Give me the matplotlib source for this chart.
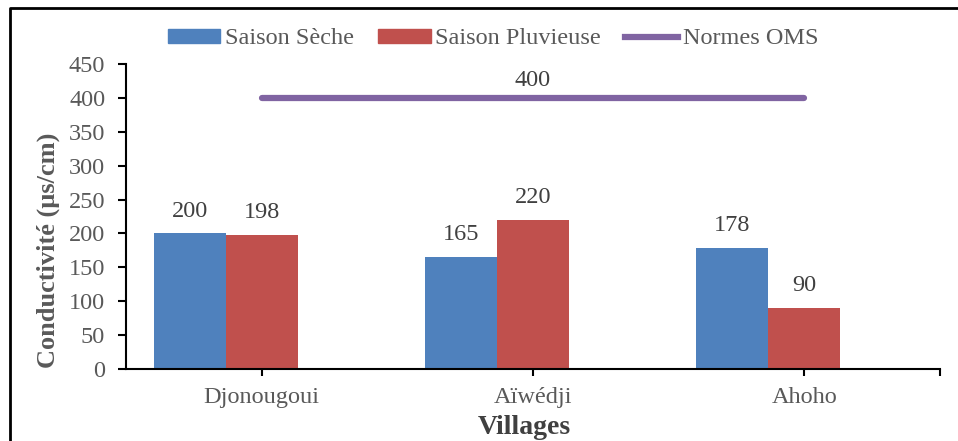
import matplotlib
matplotlib.use("Agg")
import matplotlib.pyplot as plt
from matplotlib.lines import Line2D
from matplotlib.patches import Patch
import numpy as np

categories = ["Djonougoui", "Aïwédji", "Ahoho"]
saison_seche = [200, 165, 178]
saison_pluvieuse = [198, 220, 90]
normes_oms = [400, 400, 400]
yticks = [0, 50, 100, 150, 200, 250, 300, 350, 400, 450]

BLUE = "#4F81BD"
RED = "#C0504D"
PURPLE = "#8064A2"
GRAY = "#595959"
DARK = "#404040"

plt.rcParams["font.family"] = ["Liberation Serif", "DejaVu Serif"]

W, H = 958, 441
fig = plt.figure(figsize=(W / 100, H / 100), dpi=100)
ax = fig.add_axes([126 / W, 1 - 369 / H, (940 - 126) / W, (369 - 64) / H])

x = np.arange(len(categories))
bw = 0.265
ax.bar(x - bw, saison_seche, width=bw, color=BLUE, align="center")
ax.bar(x, saison_pluvieuse, width=bw, color=RED, align="center")
ax.plot(x, normes_oms, color=PURPLE, lw=4.5, solid_capstyle="round")

fs = 17.5
for xi, v in zip(x - bw, saison_seche):
    ax.text(xi, v + 33, str(v), ha="center", va="center", fontsize=fs, color=DARK)
for xi, v in zip(x, saison_pluvieuse):
    ax.text(xi, v + 33, str(v), ha="center", va="center", fontsize=fs, color=DARK)
ax.text(x[1], normes_oms[1] + 25, str(normes_oms[1]), ha="center", va="center",
        fontsize=fs, color=DARK)

ax.set_xlim(-0.5, 2.5)
ax.set_ylim(0, 450)
ax.set_yticks(yticks)
ax.set_yticklabels([str(t) for t in yticks])
ax.set_xticks(list(x) + [2.5])
ax.set_xticklabels(categories + [""])

for s in ["top", "right"]:
    ax.spines[s].set_visible(False)
for s in ["left", "bottom"]:
    ax.spines[s].set_linewidth(1.5)
    ax.spines[s].set_color("black")
ax.tick_params(axis="y", length=6, width=1.5, labelsize=fs, labelcolor=GRAY, pad=9)
ax.tick_params(axis="x", length=5, width=1.5, labelsize=fs, labelcolor=GRAY, pad=8)

fig.text(48 / W, 1 - 250 / H, "Conductivité (µs/cm)", ha="center", va="center",
         rotation=90, fontsize=19, fontweight="bold", color=GRAY)
fig.text(524 / W, 1 - 428 / H, "Villages", ha="center", va="center",
         fontsize=20, fontweight="bold", color=DARK)

handles = [Patch(color=BLUE, label="Saison Sèche"),
           Patch(color=RED, label="Saison Pluvieuse"),
           Line2D([0], [0], color=PURPLE, lw=4.5, label="Normes OMS")]
leg = fig.legend(handles=handles, loc="center", bbox_to_anchor=(493 / W, 1 - 39 / H),
                 ncol=3, frameon=False, fontsize=fs, handlelength=2.15, handleheight=0.5,
                 handletextpad=0.2, columnspacing=1.0, labelcolor=GRAY)

# figure border (partially cropped)
fig.add_artist(Line2D([10 / W, 10 / W, 1.0], [0.0, 1 - 8 / H, 1 - 8 / H],
                      transform=fig.transFigure, color="black", lw=2))

fig.savefig("out.png", dpi=100, facecolor="white")
